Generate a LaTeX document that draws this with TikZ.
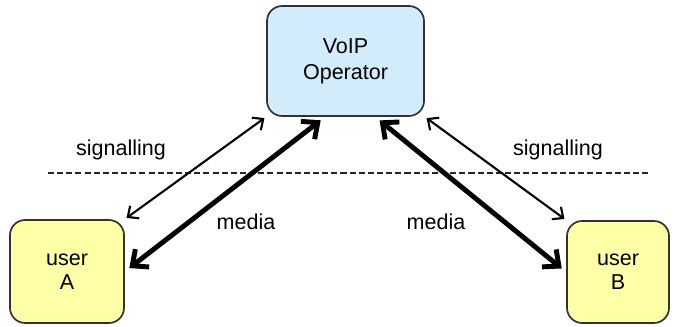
\documentclass[tikz,border=0pt]{standalone}
\usepackage{fontspec}
\setmainfont{Liberation Sans}
\usetikzlibrary{arrows.meta}
\definecolor{opblue}{RGB}{210,236,252}
\definecolor{useryellow}{RGB}{255,255,168}
\definecolor{boxline}{RGB}{50,50,50}
\begin{document}
\begin{tikzpicture}[x=0.025cm,y=-0.025cm,
    box/.style={draw=boxline,line width=1.2pt,rounded corners=0.38cm,align=center,
      font=\fontsize{15.3}{18.5}\selectfont},
    sig/.style={line width=1.5pt,{Straight Barb[length=6pt,width=11pt]}-{Straight Barb[length=6pt,width=11pt]},
      shorten <=1.5pt,shorten >=1.5pt},
    med/.style={line width=3.5pt,{Straight Barb[length=9pt,width=16pt]}-{Straight Barb[length=9pt,width=16pt]},
      shorten <=4pt,shorten >=4pt},
    lbl/.style={font=\fontsize{15.3}{18.5}\selectfont}]
  \useasboundingbox (0,0) rectangle (675,327);
  \draw
    (345.5,61) node[box,fill=opblue,minimum width=3.925cm,minimum height=2.75cm] (op){VoIP\\Operator}
    (67,271.5) node[box,fill=useryellow,minimum width=2.85cm,minimum height=2.575cm,
      font=\fontsize{15.3}{17}\selectfont] (ua){user\\A}
    (618,272) node[box,fill=useryellow,minimum width=2.55cm,minimum height=2.55cm,
      font=\fontsize{15.3}{17}\selectfont] (ub){user\\B};
  \coordinate (dl) at (48,173);
  \coordinate (dr) at (648,173);
  \draw[line width=1.5pt,dash pattern=on 4.3pt off 2.2pt,black!85] (dl) -- (dr);
  \draw[sig] (ua.north east) to (op.south west);
  \draw[sig] (op.south east) to (ub.north west);
  \draw[med] (ua.east) to (op.250);
  \draw[med] (op.298) to (ub.west);
  \node[lbl] (sigA) at (121,150) {signalling};
  \node[lbl] (sigB) at (558,150) {signalling};
  \node[lbl] (medA) at (246,222) {media};
  \node[lbl] (medB) at (436,222) {media};
\end{tikzpicture}
\end{document}
